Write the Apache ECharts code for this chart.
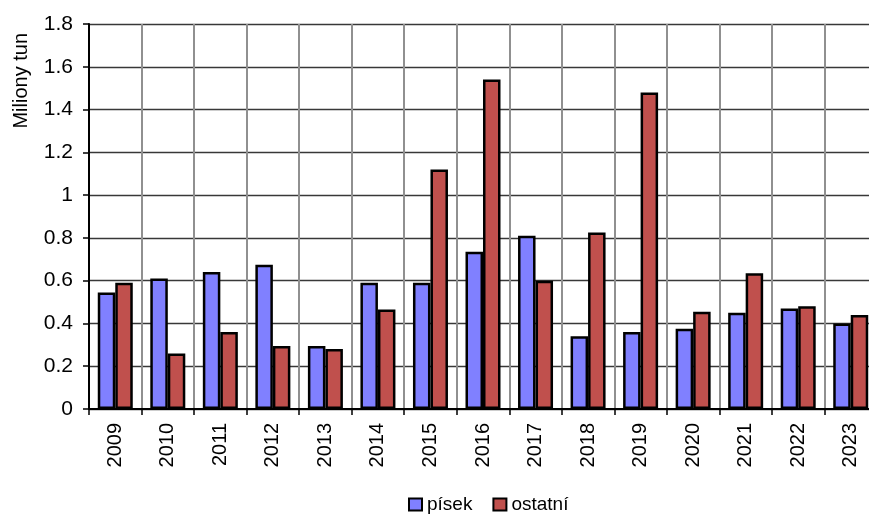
<!DOCTYPE html>
<html><head><meta charset="utf-8">
<script src="https://cdn.jsdelivr.net/npm/echarts@6/dist/echarts.min.js"></script>
<style>html,body{margin:0;padding:0;background:#fff;overflow:hidden;width:869px;height:515px}#c{width:877px;height:515px}</style>
</head><body><div id="c"></div>
<script>
var years = ['2009','2010','2011','2012','2013','2014','2015','2016','2017','2018','2019','2020','2021','2022','2023'];
var pisek = [0.545,0.61,0.64,0.675,0.295,0.59,0.59,0.735,0.81,0.34,0.36,0.375,0.45,0.47,0.40];
var ostatni = [0.59,0.26,0.36,0.295,0.28,0.465,1.12,1.54,0.60,0.825,1.48,0.455,0.635,0.48,0.44];
var yTicks = {min:0, max:1.8, interval:0.2};
var font = 'Liberation Sans, Arial, sans-serif';
var chart = echarts.init(document.getElementById('c'));
chart.setOption({
  animation:false,
  textStyle:{fontFamily:font},
  grid:{left:89, top:24, bottom:106, right:0, containLabel:false},
  legend:{
    top:495, left:408, padding:0,
    itemWidth:13, itemHeight:12, itemGap:20,
    textStyle:{fontSize:19, color:'#000', fontFamily:font},
    data:[{name:'písek', icon:'rect'},{name:'ostatní', icon:'rect'}]
  },
  graphic:[{
    type:'text', left:11, top:33, rotation:Math.PI/2,
    style:{text:'Miliony tun', fontSize:20, fontFamily:font, fill:'#000'}
  }],
  xAxis:{
    type:'category', data:years, boundaryGap:true,
    axisLine:{lineStyle:{color:'#000', width:2}},
    axisTick:{show:true, length:6, lineStyle:{color:'#000', width:1.5}},
    splitLine:{show:true, lineStyle:{color:'#909090', width:2}},
    axisLabel:{rotate:90, fontSize:20, color:'#000', margin:14, fontFamily:font}
  },
  yAxis:{
    type:'value', min:yTicks.min, max:yTicks.max, interval:yTicks.interval,
    axisLine:{show:true, lineStyle:{color:'#000', width:2}},
    axisTick:{show:true, length:6, lineStyle:{color:'#000', width:1.5}},
    splitLine:{show:true, lineStyle:{color:'#383838', width:1.3}},
    axisLabel:{fontSize:21, color:'#000', margin:16, fontFamily:font,
      formatter:function(v){return String(Math.round(v*10)/10);}}
  },
  series:[
    {name:'písek', type:'bar', data:pisek, barWidth:17.5, barGap:'0%',
     itemStyle:{color:'#8080FF', borderColor:'#000', borderWidth:2.5}},
    {name:'ostatní', type:'bar', data:ostatni, barWidth:17.5, barGap:'0%',
     itemStyle:{color:'#C0504D', borderColor:'#000', borderWidth:2.5}}
  ]
});
</script></body></html>
